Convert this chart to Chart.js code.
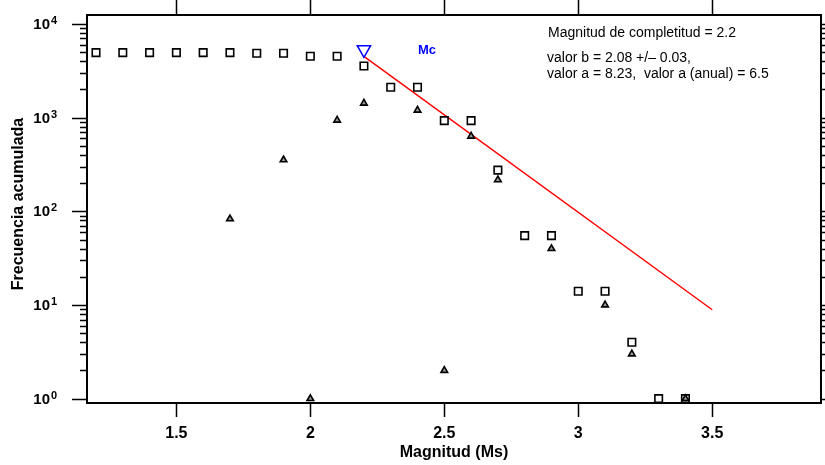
<!DOCTYPE html>
<html><head><meta charset="utf-8">
<script src="https://cdn.jsdelivr.net/npm/chart.js@4/dist/chart.umd.min.js"></script>
<style>html,body{margin:0;padding:0;background:#fff;overflow:hidden}canvas{display:block}</style>
</head><body><canvas id="c" width="825" height="465" style="width:825px;height:465px"></canvas>
<script>
// Cumulative frequency (squares)
const magnitudes = [1.2,1.3,1.4,1.5,1.6,1.7,1.8,1.9,2.0,2.1,2.2,2.3,2.4,2.5,2.6,2.7,2.8,2.9,3.0,3.1,3.2,3.3,3.4];
const cumulative = [4940,4940,4940,4940,4940,4940,4870,4870,4520,4520,3565,2114,2114,929,929,275,55,55,14,14,4,1,1];
// Non-cumulative counts (triangles)
const nonCumMag = [1.7,1.9,2.0,2.1,2.2,2.4,2.5,2.6,2.7,2.9,3.1,3.2,3.4];
const nonCumCount = [83,354,1,939,1425,1200,2,634,217,40,10,3,1];
// Gutenberg-Richter fit line endpoints
const fitMag = [2.2,3.5];
const fitFreq = [4500,8.9];
// Magnitude of completeness marker
const mcMag = [2.2];
const mcFreq = [5330];
// Axis ticks
const xTicks = [1.5,2,2.5,3,3.5];
const xTickLabels = ['1.5','2','2.5','3','3.5'];
const yDecades = [1,10,100,1000,10000];
const yExponents = ['0','1','2','3','4'];
const annotations = ['Magnitud de completitud = 2.2','valor b = 2.08 +/\u2013 0.03,','valor a = 8.23,  valor a (anual) = 6.5'];

const toPts = (xs, ys) => xs.map((x,i)=>({x:x,y:ys[i]}));

const axesPlugin = {
  id:'axesPlugin',
  afterDraw(chart){
    const ctx = chart.ctx, a = chart.chartArea;
    const xs = chart.scales.x, ys = chart.scales.y;
    ctx.save();
    ctx.strokeStyle = '#000';
    ctx.lineWidth = 2;
    ctx.strokeRect(a.left, a.top, a.right-a.left, a.bottom-a.top);
    ctx.lineWidth = 1.5;
    ctx.beginPath();
    xTicks.forEach(v=>{
      const px = Math.round(xs.getPixelForValue(v))+0.5;
      ctx.moveTo(px, a.bottom); ctx.lineTo(px, a.bottom+14);
      ctx.moveTo(px, a.top); ctx.lineTo(px, a.top-15);
    });
    yDecades.forEach((d,i)=>{
      for(let m=1;m<=9;m++){
        const v = d*m;
        if (v > ys.max || v < ys.min) continue;
        if (m>1 && i===yDecades.length-1) continue;
        const py = Math.round(ys.getPixelForValue(v))+0.5;
        const len = m===1 ? 15 : 7;
        ctx.moveTo(a.left, py); ctx.lineTo(a.left-len, py);
        ctx.moveTo(a.right, py); ctx.lineTo(a.right+len, py);
      }
    });
    ctx.stroke();
    ctx.fillStyle = '#000';
    ctx.font = 'bold 16px "Liberation Sans", Arial, sans-serif';
    ctx.textAlign = 'center'; ctx.textBaseline = 'middle';
    xTicks.forEach((v,i)=>{
      ctx.fillText(xTickLabels[i], xs.getPixelForValue(v), a.bottom+31);
    });
    yDecades.forEach((d,i)=>{
      const py = ys.getPixelForValue(d);
      ctx.font = 'bold 15px "Liberation Sans", Arial, sans-serif';
      ctx.textAlign = 'right'; ctx.textBaseline = 'middle';
      ctx.fillText('10', 50, py+1);
      ctx.font = 'bold 11px "Liberation Sans", Arial, sans-serif';
      ctx.textAlign = 'left';
      ctx.fillText(yExponents[i], 51, py-3);
    });
    ctx.font = 'bold 16px "Liberation Sans", Arial, sans-serif';
    ctx.textAlign = 'center'; ctx.textBaseline = 'middle';
    ctx.fillText('Magnitud (Ms)', (a.left+a.right)/2, 453);
    ctx.save();
    ctx.translate(19, 204);
    ctx.rotate(-Math.PI/2);
    ctx.fillText('Frecuencia acumulada', 0, 0);
    ctx.restore();
    ctx.fillStyle = '#0000ff';
    ctx.font = 'bold 13px "Liberation Sans", Arial, sans-serif';
    ctx.textAlign = 'left';
    ctx.fillText('Mc', 418, 50);
    ctx.fillStyle = '#000';
    ctx.font = '14px "Liberation Sans", Arial, sans-serif';
    ctx.fillText(annotations[0], 548, 33);
    ctx.fillText(annotations[1], 547, 58);
    ctx.fillText(annotations[2], 547, 74);
    ctx.restore();
  }
};

new Chart(document.getElementById('c'), {
  type:'scatter',
  data:{datasets:[
    {label:'Mc', data:toPts(mcMag,mcFreq), pointStyle:'triangle', rotation:180, radius:7.7,
      borderColor:'#0000ff', backgroundColor:'rgba(0,0,0,0)', borderWidth:1.5},
    {label:'Acumulada', data:toPts(magnitudes,cumulative), pointStyle:'rect', radius:5.3,
      borderColor:'#000', backgroundColor:'rgba(0,0,0,0)', borderWidth:1.6},
    {label:'No acumulada', data:toPts(nonCumMag,nonCumCount), pointStyle:'triangle', radius:3.8,
      borderColor:'#000', backgroundColor:'#999', borderWidth:1.6},
    {label:'Ajuste', data:toPts(fitMag,fitFreq), showLine:true, pointRadius:0,
      borderColor:'#ff0000', borderWidth:1.5}
  ]},
  options:{
    responsive:false, animation:false, devicePixelRatio:1,
    layout:{autoPadding:false, padding:{left:87, right:4, top:15, bottom:62}},
    plugins:{legend:{display:false}, tooltip:{enabled:false}},
    events:[],
    scales:{
      x:{type:'linear', min:1.1664, max:3.906, display:false},
      y:{type:'logarithmic', min:0.899, max:12470, display:false}
    }
  },
  plugins:[axesPlugin]
});
</script></body></html>
